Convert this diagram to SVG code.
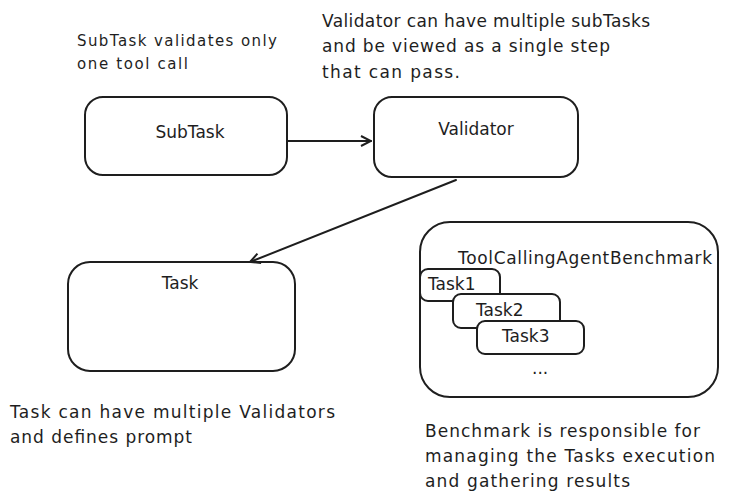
<svg xmlns="http://www.w3.org/2000/svg" width="744" height="502" viewBox="0 0 744 502">
<defs>
<style>
text{font-family:"DejaVu Sans","Liberation Sans",sans-serif;font-size:17px;fill:#1e1e1e}
.s{font-size:15px}
.box{fill:none;stroke:#1e1e1e;stroke-width:2}
.ln{fill:none;stroke:#1e1e1e;stroke-width:2;stroke-linecap:round}
</style>
<marker id="ah" viewBox="0 0 12 12" refX="11" refY="6" markerWidth="12" markerHeight="12" markerUnits="userSpaceOnUse" orient="auto">
<path d="M1,1 L11,6 L1,11" fill="none" stroke="#1e1e1e" stroke-width="2"/>
</marker>
</defs>
<rect width="744" height="502" fill="#fff"/>
<text class="s" x="77" y="46" textLength="200" lengthAdjust="spacing">SubTask validates only</text>
<text class="s" x="77" y="69" textLength="111" lengthAdjust="spacing">one tool call</text>
<text x="322" y="27" textLength="328" lengthAdjust="spacing">Validator can have multiple subTasks</text>
<text x="322" y="52" textLength="288" lengthAdjust="spacing">and be viewed as a single step</text>
<text x="322" y="78" textLength="138" lengthAdjust="spacing">that can pass.</text>
<text x="10" y="418" textLength="325" lengthAdjust="spacing">Task can have multiple Validators</text>
<text x="10" y="443" textLength="182" lengthAdjust="spacing">and defines prompt</text>
<text x="425" y="437" textLength="275" lengthAdjust="spacing">Benchmark is responsible for</text>
<text x="425" y="462" textLength="290" lengthAdjust="spacing">managing the Tasks execution</text>
<text x="425" y="487" textLength="205" lengthAdjust="spacing">and gathering results</text>
<g id="subtask"><rect class="box" x="85" y="97" width="202" height="78" rx="18"/><text x="190" y="138" text-anchor="middle">SubTask</text></g>
<g id="validator"><rect class="box" x="374" y="97" width="204" height="80" rx="18"/><text x="476" y="135" text-anchor="middle">Validator</text></g>
<g id="task"><rect class="box" x="68" y="262" width="227" height="109" rx="22"/><text x="180" y="289" text-anchor="middle">Task</text></g>
<g id="benchmark"><rect class="box" x="420" y="222" width="298" height="175" rx="30"/><text x="458" y="264" textLength="254" lengthAdjust="spacing">ToolCallingAgentBenchmark</text></g>
<g id="task1"><rect class="box" x="420" y="269" width="80" height="32" rx="8" style="fill:#fff"/><text x="428" y="290">Task1</text></g>
<g id="task2"><rect class="box" x="453" y="294" width="107" height="34" rx="8" style="fill:#fff"/><text x="476" y="316">Task2</text></g>
<g id="task3"><rect class="box" x="477" y="321" width="107" height="33" rx="8" style="fill:#fff"/><text x="502" y="342">Task3</text></g>
<text x="532" y="374">...</text>
<g id="connectors">
<path class="ln" d="M287,141 L371,141" marker-end="url(#ah)"/>
<path class="ln" d="M456,180 L250,262" marker-end="url(#ah)"/>
</g>
</svg>
